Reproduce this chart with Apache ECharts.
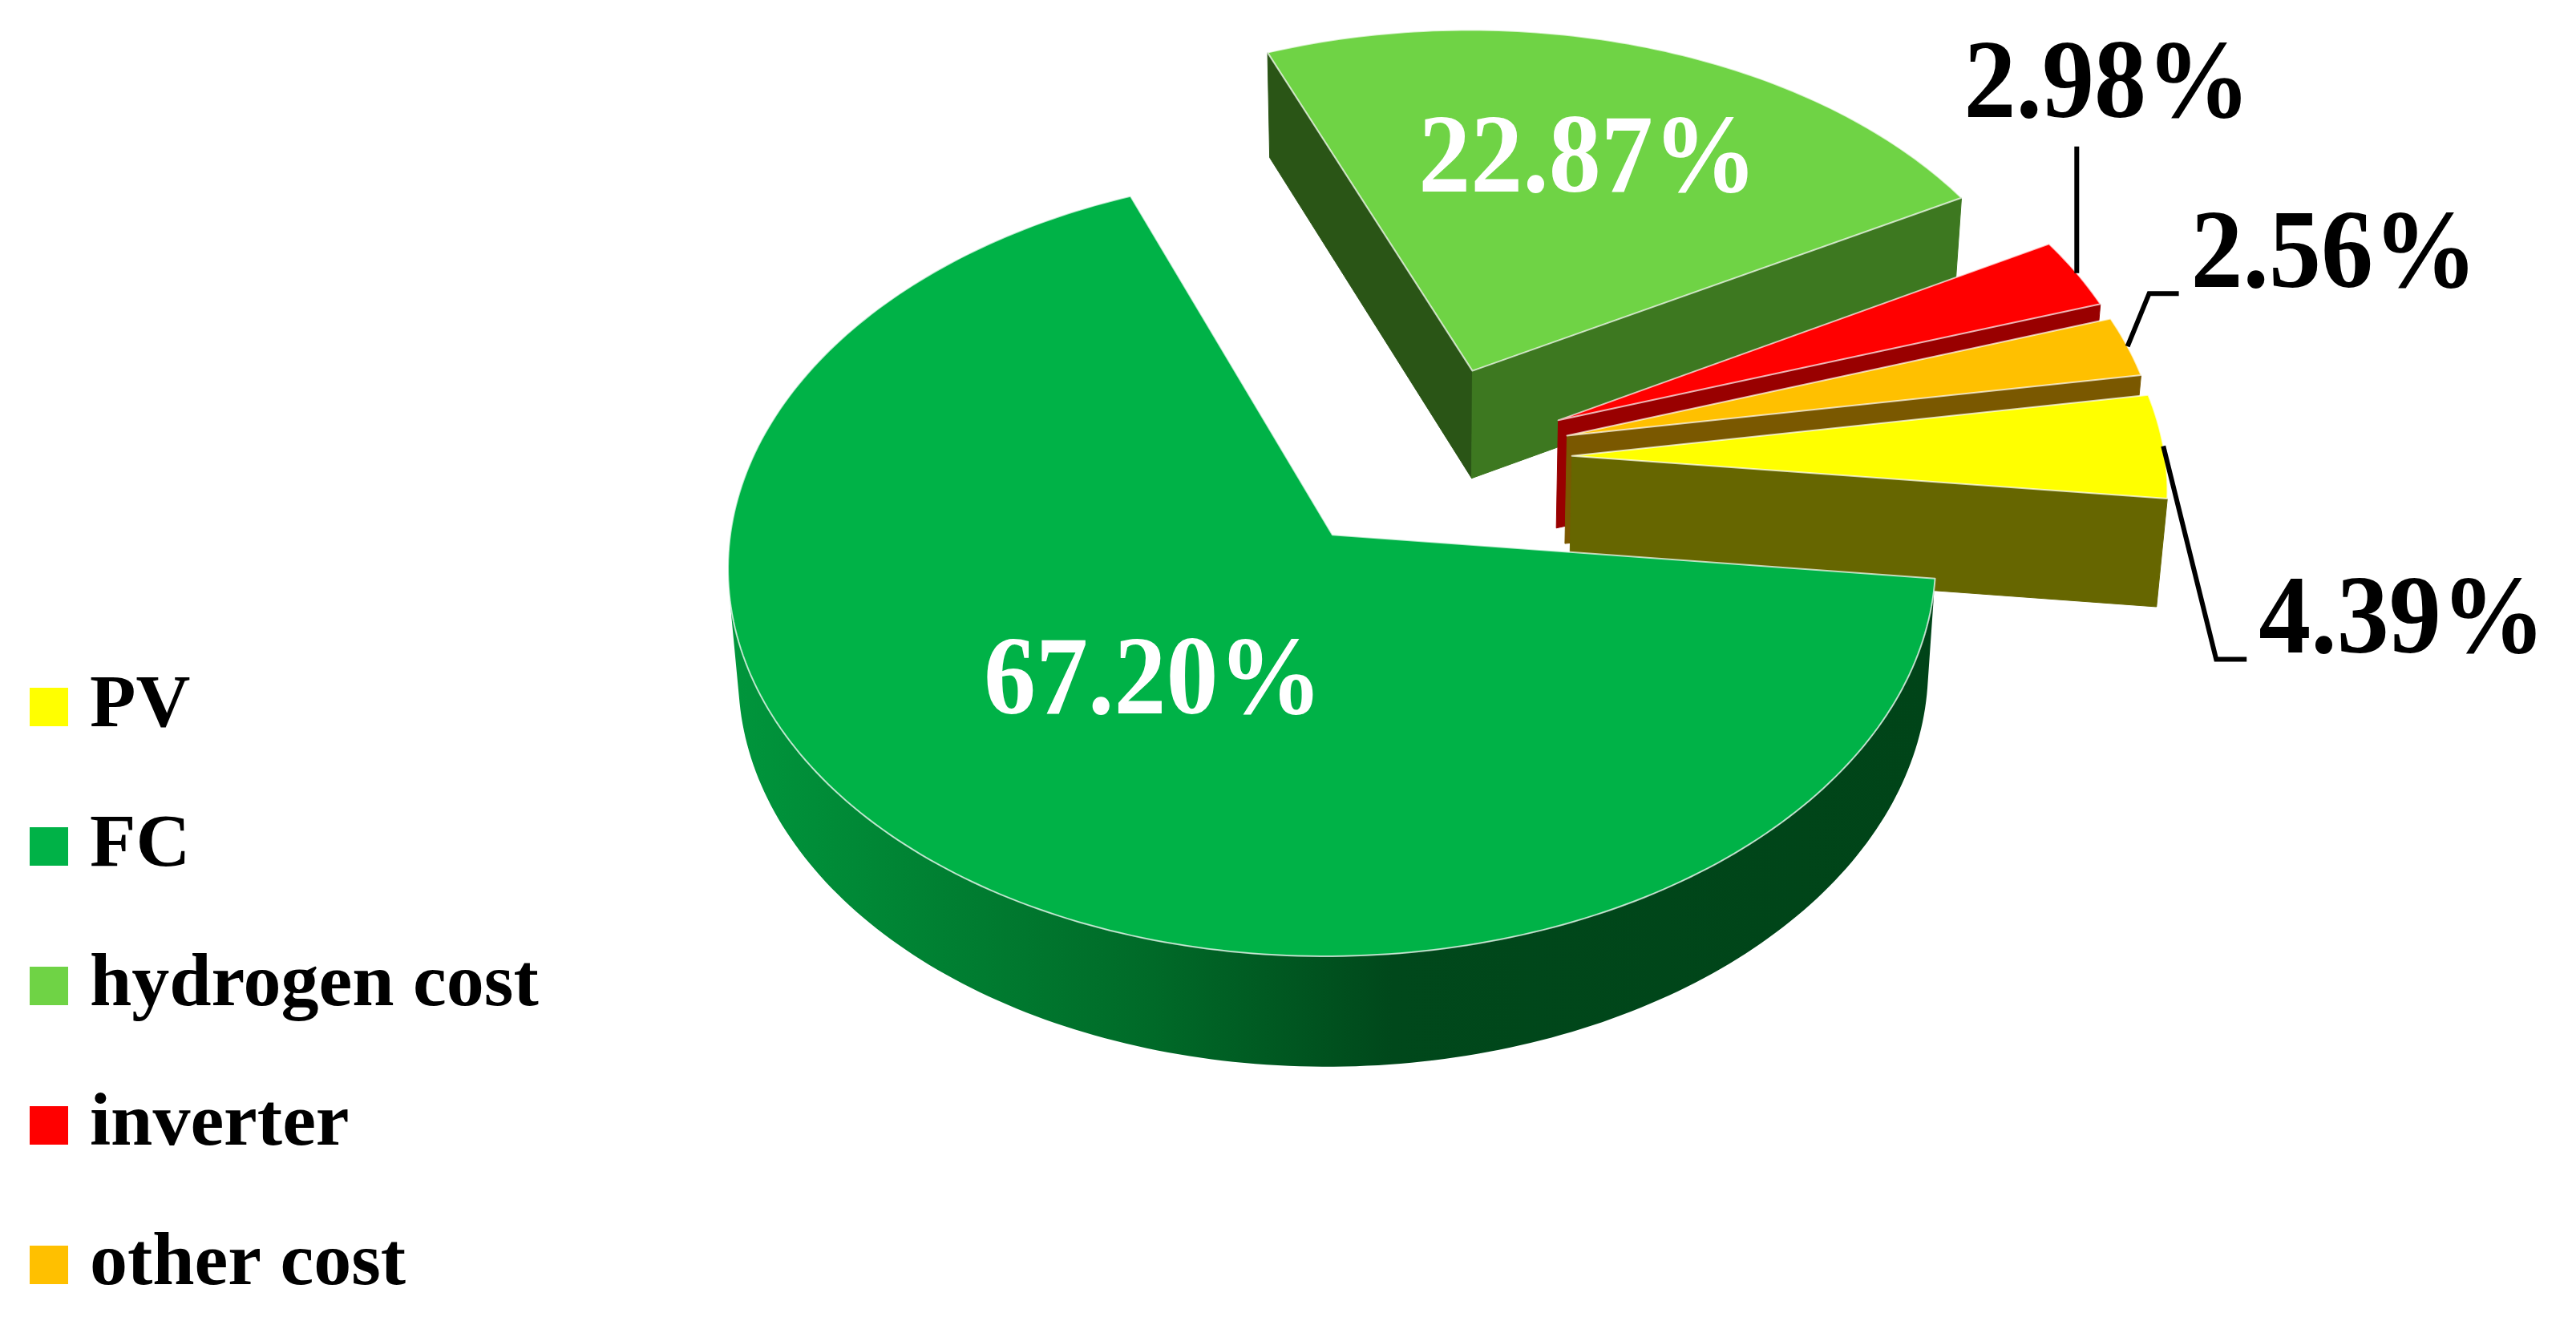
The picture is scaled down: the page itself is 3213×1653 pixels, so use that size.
<!DOCTYPE html>
<html>
<head>
<meta charset="utf-8">
<script src="https://cdn.jsdelivr.net/npm/echarts@6/dist/echarts.min.js"></script>
<style>
  html, body { margin: 0; background: #fff; }
  #chart { width: 3213px; height: 1653px; }
</style>
</head>
<body>
<div id="chart"></div>
<script>
// data
const categories = ['PV', 'FC', 'hydrogen cost', 'inverter', 'other cost'];
const shares = [4.39, 67.20, 22.87, 2.98, 2.56];
const shareLabels = ['4.39%', '67.20%', '22.87%', '2.98%', '2.56%'];

// colours
const topColors = ['#FFFF00', '#00B247', '#6FD345', '#FF0000', '#FFC000'];
const endWallColors = ['#666600', '#00451a', '#3D7820', '#990000', '#7A5800'];
const startWallColors = ['#4d4d00', '#00451a', '#2A5516', '#7a0000', '#5e4400'];

// 3D view of the pie
const FIRST_ANGLE = 80.6; // degrees clockwise from 12 o'clock
const EXPLODE = 0.25;
const DEPTH = 0.24;
const SIN_A = 0.638;
const COS_A = Math.sqrt(1 - SIN_A * SIN_A);
const CAM_D = 10.4;
const RAD = Math.PI / 180;

// label placement: inside radius, or leader line offsets (px)
const labelPlace = [
  { elbow: [66, 266], end: [104, 266], text: [119, 222], align: 'left' },
  { inside: 0.47 },
  { inside: 0.63 },
  { elbow: [0, -158], end: [0, -158], text: [38, -231], align: 'center' },
  { elbow: [27, -66], end: [64, -66], text: [79, -110], align: 'left' }
];

// slice angles
const total = shares.reduce((a, b) => a + b, 0);
const slices = [];
let acc = FIRST_ANGLE;
shares.forEach(v => {
  const span = v / total * 360;
  slices.push({ start: acc, end: acc + span, mid: acc + span / 2 });
  acc += span;
});
// far slices are painted first
const order = slices.map((s, i) => i).sort((a, b) => Math.cos(slices[b].mid * RAD) - Math.cos(slices[a].mid * RAD));
const rank = [];
order.forEach((idx, r) => { rank[idx] = r; });

function proj(X, Y, Z, L) {
  const k = CAM_D / (CAM_D + Y * COS_A - Z * SIN_A);
  return [L.cx + L.s * X * k, L.cy - L.s * (Y * SIN_A + Z * COS_A) * k];
}
function rimPoint(c, deg, z, L) {
  return proj(c[0] + Math.sin(deg * RAD), c[1] + Math.cos(deg * RAD), z, L);
}
function arcPoints(c, a0, a1, z, L) {
  const n = Math.max(2, Math.ceil(Math.abs(a1 - a0)));
  const pts = [];
  for (let j = 0; j <= n; j++) pts.push(rimPoint(c, a0 + (a1 - a0) * j / n, z, L));
  return pts;
}

const fcWallFill = new echarts.graphic.LinearGradient(0, 0, 1, 0, [
  { offset: 0, color: '#00963C' },
  { offset: 0.35, color: '#006A28' },
  { offset: 0.55, color: '#00481B' },
  { offset: 1, color: '#004418' }
]);

function renderSlice(i) {
  return function (params, api) {
    const W = api.getWidth(), H = api.getHeight();
    const L = { cx: W * 0.5527, cy: H * 0.346, s: W * 0.2303 };
    const sl = slices[i];
    const m = sl.mid * RAD;
    const c = [EXPLODE * Math.sin(m), EXPLODE * Math.cos(m)];
    const base = rank[i] * 10;
    const camY = -CAM_D * COS_A;
    const kids = [];
    const top0 = proj(c[0], c[1], 0, L);
    const bot0 = proj(c[0], c[1], -DEPTH, L);

    const radialWall = (deg, fill) => ({
      type: 'polygon', z2: base + 1,
      shape: { points: [top0, rimPoint(c, deg, 0, L), rimPoint(c, deg, -DEPTH, L), bot0] },
      style: { fill: fill, stroke: fill, lineWidth: 1 }
    });
    const ts = sl.start * RAD, te = sl.end * RAD;
    if (c[0] * Math.cos(ts) + (camY - c[1]) * Math.sin(ts) > 0) kids.push(radialWall(sl.start, startWallColors[i]));
    if (-c[0] * Math.cos(te) - (camY - c[1]) * Math.sin(te) > 0) kids.push(radialWall(sl.end, endWallColors[i]));

    // outer wall, front-facing part only
    const runs = [];
    let run = null;
    const steps = Math.ceil(sl.end - sl.start);
    for (let j = 0; j <= steps; j++) {
      const a = sl.start + (sl.end - sl.start) * j / steps;
      const t = a * RAD;
      const px = c[0] + Math.sin(t), py = c[1] + Math.cos(t);
      const vis = -px * Math.sin(t) + (camY - py) * Math.cos(t) > 0;
      if (vis) { if (!run) { run = [a, a]; runs.push(run); } run[1] = a; }
      else run = null;
    }
    runs.forEach(r => {
      if (r[1] - r[0] < 0.2) return;
      const pts = arcPoints(c, r[0], r[1], 0, L).concat(arcPoints(c, r[0], r[1], -DEPTH, L).reverse());
      const fill = i === 1 ? fcWallFill : endWallColors[i];
      kids.push({ type: 'polygon', z2: base + 2, shape: { points: pts }, style: { fill: fill } });
    });

    // top face
    kids.push({
      type: 'polygon', z2: base + 3,
      shape: { points: [top0].concat(arcPoints(c, sl.start, sl.end, 0, L)) },
      style: { fill: topColors[i], stroke: 'rgba(255,255,255,0.7)', lineWidth: 2, lineJoin: 'round' }
    });

    // label
    const lp = labelPlace[i];
    const font = 'bold 130px "Liberation Serif", "Times New Roman", serif';
    if (lp.inside) {
      const p = proj(c[0] + lp.inside * Math.sin(m), c[1] + lp.inside * Math.cos(m), 0, L);
      kids.push({
        type: 'text', z2: 1000, x: p[0], y: p[1], scaleY: 1.07,
        style: { text: shareLabels[i], fill: '#fff', font: font, textAlign: 'center', textVerticalAlign: 'middle', align: 'center', verticalAlign: 'middle' }
      });
    } else {
      const a = rimPoint(c, sl.mid, 0, L);
      kids.push({
        type: 'polyline', z2: 999,
        shape: { points: [a, [a[0] + lp.elbow[0], a[1] + lp.elbow[1]], [a[0] + lp.end[0], a[1] + lp.end[1]]] },
        style: { stroke: '#000', lineWidth: 6, fill: null }
      });
      kids.push({
        type: 'text', z2: 1000, x: a[0] + lp.text[0], y: a[1] + lp.text[1], scaleY: 1.07,
        style: { text: shareLabels[i], fill: '#000', font: font, textAlign: lp.align, textVerticalAlign: 'middle', align: lp.align, verticalAlign: 'middle' }
      });
    }
    return { type: 'group', children: kids };
  };
}

const chart = echarts.init(document.getElementById('chart'));

const option = {
  backgroundColor: '#fff',
  animation: false,
  legend: {
    orient: 'vertical',
    left: 32,
    top: 827,
    itemWidth: 48,
    itemHeight: 48,
    itemGap: 74,
    icon: 'rect',
    selectedMode: false,
    data: categories,
    textStyle: {
      fontFamily: '"Liberation Serif", "Times New Roman", serif',
      fontWeight: 'bold',
      fontSize: 94,
      color: '#000',
      lineHeight: 100,
      padding: [0, 0, 0, 22]
    }
  },
  series: categories.map((name, i) => ({
    name: name,
    type: 'custom',
    coordinateSystem: 'none',
    silent: true,
    itemStyle: { color: topColors[i] },
    renderItem: renderSlice(i),
    data: [shares[i]]
  }))
};

chart.setOption(option);
window.addEventListener('resize', () => chart.resize());
</script>
</body>
</html>
